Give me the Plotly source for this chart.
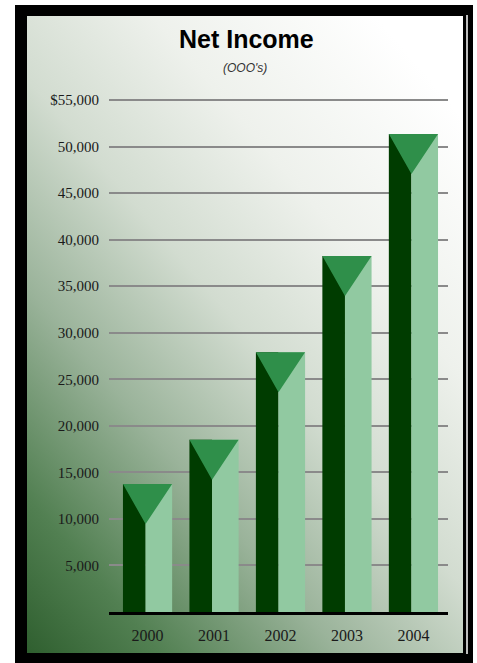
import base64
import plotly.graph_objects as go

# ---- data ----
years = ["2000", "2001", "2002", "2003", "2004"]
net_income = [13750, 18500, 27900, 38250, 51350]
y_tick_values = [0, 5000, 10000, 15000, 20000, 25000, 30000, 35000, 40000, 45000, 50000, 55000]
y_tick_labels = ["", "5,000", "10,000", "15,000", "20,000", "25,000", "30,000",
                 "35,000", "40,000", "45,000", "50,000", "$55,000"]

W, H = 477, 663
TRI_DEPTH = 4300  # depth of inverted triangle cap in data units

DARK = "#003c00"
LIGHT = "#91c9a1"
TRI = "#2f8f4a"

xs = list(range(len(years)))

fig = go.Figure()
fig.add_trace(go.Bar(x=xs, y=net_income, width=0.34, offset=-0.37,
                     marker=dict(color=DARK, line=dict(width=0)), hoverinfo="skip"))
fig.add_trace(go.Bar(x=xs, y=net_income, width=0.40, offset=-0.03,
                     marker=dict(color=LIGHT, line=dict(width=0)), hoverinfo="skip"))

tx, ty = [], []
for x, v in zip(xs, net_income):
    tx += [x - 0.37, x + 0.37, x - 0.03, x - 0.37, None]
    ty += [v, v, v - TRI_DEPTH, v, None]
fig.add_trace(go.Scatter(x=tx, y=ty, mode="lines", fill="toself", fillcolor=TRI,
                         line=dict(width=0, color=TRI), hoverinfo="skip"))

# background gradient panel
svg = ('<svg xmlns="http://www.w3.org/2000/svg" width="436" height="637" viewBox="0 0 436 637" '
       'preserveAspectRatio="none"><defs><linearGradient id="g" x1="0" y1="1" x2="0.8" y2="0">'
       '<stop offset="0" stop-color="#2f5f2f"/><stop offset="0.15" stop-color="#528052"/>'
       '<stop offset="0.35" stop-color="#9ab39a"/><stop offset="0.55" stop-color="#d2dcd0"/>'
       '<stop offset="0.75" stop-color="#eef1ec"/><stop offset="1" stop-color="#ffffff"/>'
       '</linearGradient></defs><rect width="436" height="637" fill="url(#g)"/></svg>')
src = "data:image/svg+xml;base64," + base64.b64encode(svg.encode()).decode()

def px(x):
    return x / W

def py(y):
    return 1 - y / H

fig.add_layout_image(dict(source=src, xref="paper", yref="paper",
                          x=px(27), y=py(16), sizex=px(463) - px(27), sizey=py(16) - py(653),
                          sizing="stretch", layer="below", xanchor="left", yanchor="top"))

shapes = []
def rect(x0, y0, x1, y1, color):
    shapes.append(dict(type="rect", xref="paper", yref="paper",
                       x0=px(x0), x1=px(x1), y0=py(y1), y1=py(y0),
                       fillcolor=color, line=dict(width=0), layer="above"))

rect(15, 5, 473, 16, "black")
rect(15, 5, 27, 663, "black")
rect(15, 653, 473, 663, "black")
rect(463, 5, 473, 663, "black")
rect(466, 15, 468, 654, "#bdbdbd")

# y range mapping: 0 -> 612px, 55000 -> 100px
ppu = (612 - 100) / 55000
y_top = 56000
dom_top = py(612 - y_top * ppu)
dom_bot = py(612)

fig.update_layout(
    width=W, height=H,
    margin=dict(l=0, r=0, t=0, b=0),
    paper_bgcolor="white", plot_bgcolor="rgba(0,0,0,0)",
    showlegend=False, barmode="overlay",
    shapes=shapes,
    xaxis=dict(domain=[px(109), px(448)], range=[-0.58, 4.52],
               tickvals=xs, ticktext=years, showgrid=False, zeroline=False,
               showline=True, linecolor="black", linewidth=3,
               ticks="outside", ticklen=7, tickcolor="rgba(0,0,0,0)",
               tickfont=dict(family="Liberation Serif", size=16, color="#1a1a1a"),
               fixedrange=True),
    yaxis=dict(domain=[dom_bot, dom_top], range=[0, y_top],
               tickvals=y_tick_values, ticktext=y_tick_labels,
               showgrid=True, gridcolor="#8a8a8a", gridwidth=1.5, zeroline=False,
               ticks="outside", ticklen=6, tickcolor="rgba(0,0,0,0)",
               tickfont=dict(family="Liberation Serif", size=15, color="#1a1a1a"),
               fixedrange=True),
    annotations=[
        dict(text="<b>Net Income</b>", xref="paper", yref="paper", x=px(246), y=py(39),
             xanchor="center", yanchor="middle", showarrow=False,
             font=dict(family="Liberation Sans", size=25, color="black")),
        dict(text="<i>(OOO's)</i>", xref="paper", yref="paper", x=px(245), y=py(68),
             xanchor="center", yanchor="middle", showarrow=False,
             font=dict(family="Liberation Sans", size=12, color="#333333")),
    ],
)

fig.write_html("out.html", config={"displayModeBar": False},
               post_script="document.body.style.margin='0';document.body.style.padding='0';"
                           "document.body.style.overflow='hidden';")
